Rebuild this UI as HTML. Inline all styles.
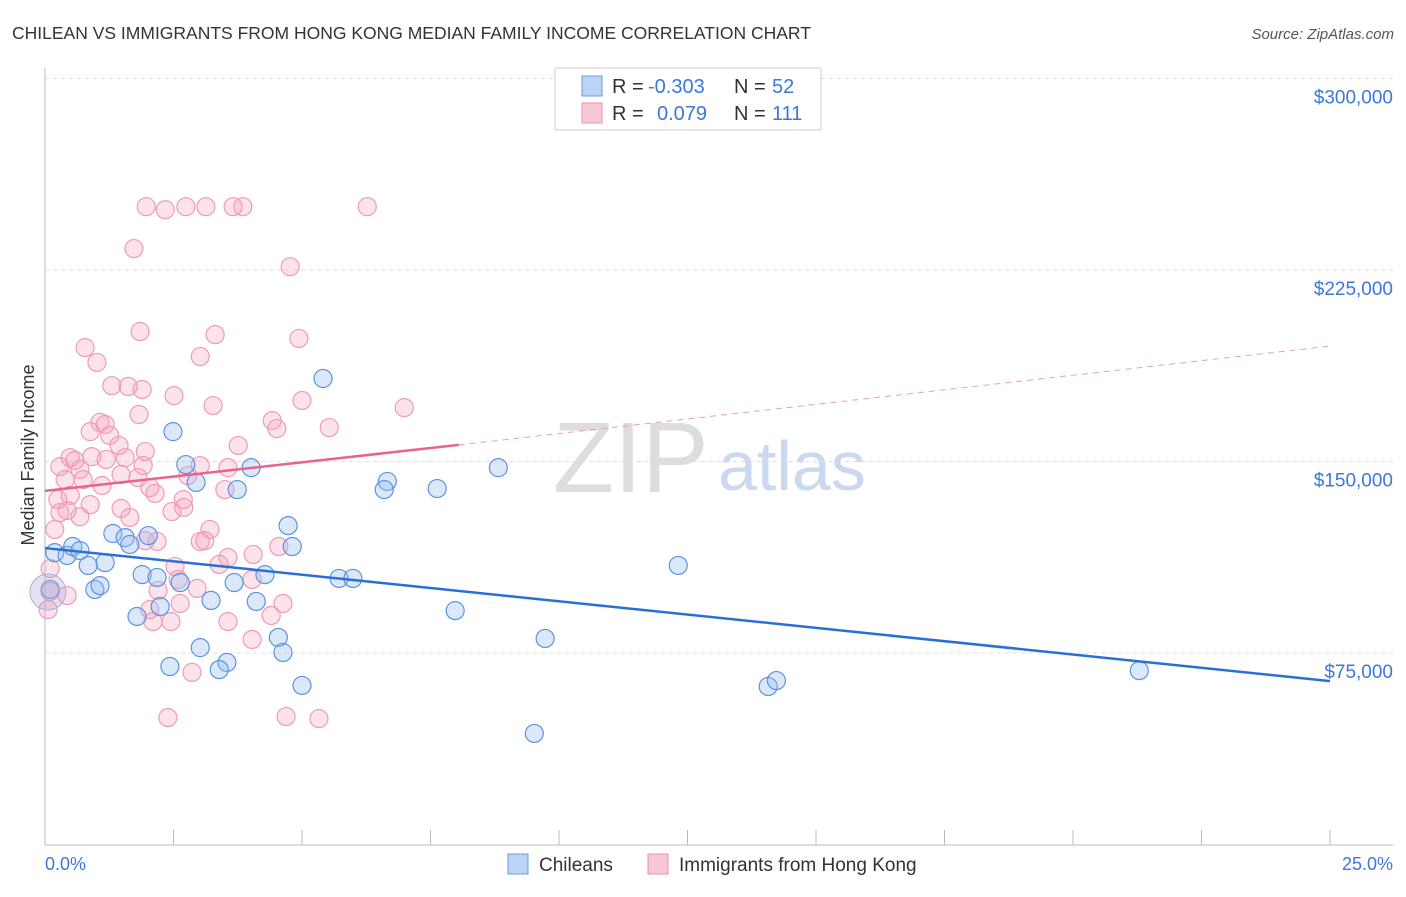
<!DOCTYPE html>
<html><head><meta charset="utf-8"><style>
body{margin:0;background:#fff;font-family:"Liberation Sans",sans-serif}
svg text{font-family:"Liberation Sans",sans-serif}
</style></head><body>
<svg id="c" width="1406" height="892" viewBox="0 0 1406 892">
<text x="12" y="39" font-size="17.5" fill="#333">CHILEAN VS IMMIGRANTS FROM HONG KONG MEDIAN FAMILY INCOME CORRELATION CHART</text>
<text x="1394" y="39" font-size="15" fill="#555" text-anchor="end" font-style="italic">Source: ZipAtlas.com</text>
<text x="553" y="492" font-size="100" fill="#ddd" font-family="Liberation Serif">ZIP</text>
<text x="718" y="490" font-size="70" fill="#c9d9f0">atlas</text>
<g id="grid"></g><g id="pts"></g><g id="lines"></g>
<text transform="translate(34,455) rotate(-90)" font-size="18" fill="#333" text-anchor="middle">Median Family Income</text>
<text x="45" y="870" font-size="18" fill="#3b78d8">0.0%</text>
<text x="1393" y="870" font-size="18" fill="#3b78d8" text-anchor="end">25.0%</text>
<g>
<rect x="555" y="68" width="266" height="62" fill="#fff" stroke="#ccc"/>
<rect x="582" y="76" width="20" height="20" fill="#bcd4f5" stroke="#6a9ce0"/>
<rect x="582" y="103" width="20" height="20" fill="#f9c8d6" stroke="#e890ad"/>
<text x="612" y="93" font-size="20" fill="#333">R =</text>
<text x="648" y="93" font-size="20" fill="#3b78d8">-0.303</text>
<text x="734" y="93" font-size="20" fill="#333">N =</text>
<text x="772" y="93" font-size="20" fill="#3b78d8">52</text>
<text x="612" y="120" font-size="20" fill="#333">R =</text>
<text x="657" y="120" font-size="20" fill="#3b78d8">0.079</text>
<text x="734" y="120" font-size="20" fill="#333">N =</text>
<text x="772" y="120" font-size="20" fill="#3b78d8">111</text>
</g>
<g>
<rect x="508" y="854" width="20" height="20" fill="#bcd4f5" stroke="#6a9ce0"/>
<text x="539" y="871" font-size="19" fill="#333">Chileans</text>
<text x="679" y="871" font-size="19" fill="#333">Immigrants from Hong Kong</text>
<rect x="648" y="854" width="20" height="20" fill="#f9c8d6" stroke="#e890ad"/>
</g>
</svg>
<script>
const yTicks=[75000,150000,225000,300000];
const yTickLabels=["$75,000","$150,000","$225,000","$300,000"];
const blueX=[5.41,2.49,2.74,4.01,2.94,3.74,6.66,6.60,7.63,8.82,4.73,4.81,1.32,1.56,1.65,2.01,0.19,0.43,0.54,0.68,0.84,1.17,0.10,0.97,1.07,1.89,2.18,2.63,3.68,4.28,5.72,5.99,2.24,1.79,3.23,4.11,7.98,12.32,4.54,9.73,4.63,3.02,3.54,2.43,3.39,5.00,14.07,14.23,9.52,21.29];
const blueY=[182.5,161.7,148.8,147.6,141.8,139.0,142.2,139.0,139.4,147.6,124.9,116.7,121.8,120.2,117.5,121.0,114.3,113.2,116.7,115.1,109.3,110.4,99.9,99.9,101.4,105.7,104.6,102.6,102.6,105.7,104.2,104.2,93.2,89.3,95.6,95.2,91.6,109.3,81.1,80.7,75.2,77.1,71.3,69.7,68.5,62.3,61.9,64.2,43.5,68.1];
const pinkX=[1.97,2.34,2.74,3.13,3.66,3.85,6.27,1.73,4.77,1.85,3.31,4.94,0.78,1.01,3.02,1.30,1.62,1.89,2.51,5.00,3.27,6.99,1.83,4.42,4.51,5.53,1.07,1.17,0.88,1.26,1.44,3.76,0.49,0.58,0.91,1.19,1.56,1.95,0.29,0.68,1.91,3.02,3.56,0.39,0.74,1.11,1.48,1.81,2.78,2.04,0.49,0.25,0.88,2.14,2.69,3.50,0.29,0.43,0.68,1.48,1.65,2.47,2.70,0.19,3.21,1.95,2.18,3.02,3.11,4.05,4.55,3.56,2.53,3.39,2.59,4.03,2.96,0.10,0.10,0.43,2.20,2.04,2.63,4.63,2.45,2.10,3.56,4.40,4.03,2.86,2.39,4.69,5.33,0.06];
const pinkY=[249.8,248.6,249.8,249.8,249.8,249.8,249.8,233.4,226.3,200.9,199.7,198.2,194.6,188.8,191.1,179.7,179.4,178.2,175.8,173.9,171.9,171.1,168.4,166.0,162.9,163.3,165.3,164.5,161.7,160.2,156.3,156.3,151.5,150.4,151.9,150.8,151.5,153.9,148.0,146.9,148.4,148.4,147.6,142.9,142.9,140.6,144.9,143.7,144.5,139.8,136.7,135.1,133.1,137.5,135.1,139.0,130.0,130.8,128.4,131.6,128.1,130.4,132.0,123.4,123.4,119.0,118.7,118.7,119.0,113.6,116.7,112.4,108.9,109.7,103.8,103.8,100.3,108.1,99.1,97.5,99.5,92.0,94.4,94.4,87.3,87.3,87.3,89.7,80.3,67.4,49.7,50.1,49.3,92.0];
const blueTrend=[[0,116.1],[25,64.0]];
const pinkTrendSolid=[[0,138.5],[8.05,156.5]];
const pinkTrendDash=[[8.05,156.5],[25,195.2]];
const NS='http://www.w3.org/2000/svg';
const sx=p=>45+p/25*1285, sy=v=>844.5-v/75000*191.5, syk=k=>sy(k*1000);
function mk(t,a,parent){const e=document.createElementNS(NS,t);for(const k in a)e.setAttribute(k,a[k]);document.getElementById(parent).appendChild(e);return e;}
const g='grid';
let ax=mk('line',{x1:45,y1:68,x2:45,y2:845,stroke:'#bbb'},g);


let bx=mk('line',{x1:45,y1:845,x2:1393,y2:845,stroke:'#bbb'},g);


for(let i=1;i<=10;i++){const t=mk('line',{x1:45+i*128.5,y1:830,x2:45+i*128.5,y2:845,stroke:'#bbb'},g);

}
yTicks.forEach((v,i)=>{const l=mk('line',{x1:45,y1:sy(v),x2:1393,y2:sy(v),stroke:'#ddd','stroke-dasharray':'4,4'},g);


const t=mk('text',{x:1393,y:sy(v)+25,'font-size':19,fill:'#3b78d8','text-anchor':'end'},g);t.textContent=yTickLabels[i];

});
pinkX.forEach((x,i)=>{const c=mk('circle',{cx:sx(x),cy:syk(pinkY[i]),r:9,fill:'rgba(245,160,185,0.3)',stroke:'#ef9bb6','stroke-width':1.2},'pts');

});
blueX.forEach((x,i)=>{const c=mk('circle',{cx:sx(x),cy:syk(blueY[i]),r:9,fill:'rgba(150,190,240,0.35)',stroke:'#5b93df','stroke-width':1.2},'pts');

});
let big=mk('circle',{cx:48,cy:592,r:18,fill:'rgba(180,170,210,0.35)',stroke:'#9fb3e0'},'pts');


let l1=mk('line',{x1:sx(blueTrend[0][0]),y1:syk(blueTrend[0][1]),x2:sx(blueTrend[1][0]),y2:syk(blueTrend[1][1]),stroke:'#2a6fd6','stroke-width':2.5},'lines');


let l2=mk('line',{x1:sx(pinkTrendSolid[0][0]),y1:syk(pinkTrendSolid[0][1]),x2:sx(pinkTrendSolid[1][0]),y2:syk(pinkTrendSolid[1][1]),stroke:'#e8648e','stroke-width':2.5},'lines');


let l3=mk('line',{x1:sx(pinkTrendDash[0][0]),y1:syk(pinkTrendDash[0][1]),x2:sx(pinkTrendDash[1][0]),y2:syk(pinkTrendDash[1][1]),stroke:'#e8a0b8','stroke-width':1,'stroke-dasharray':'6,5'},'lines');


</script>
</body></html>
